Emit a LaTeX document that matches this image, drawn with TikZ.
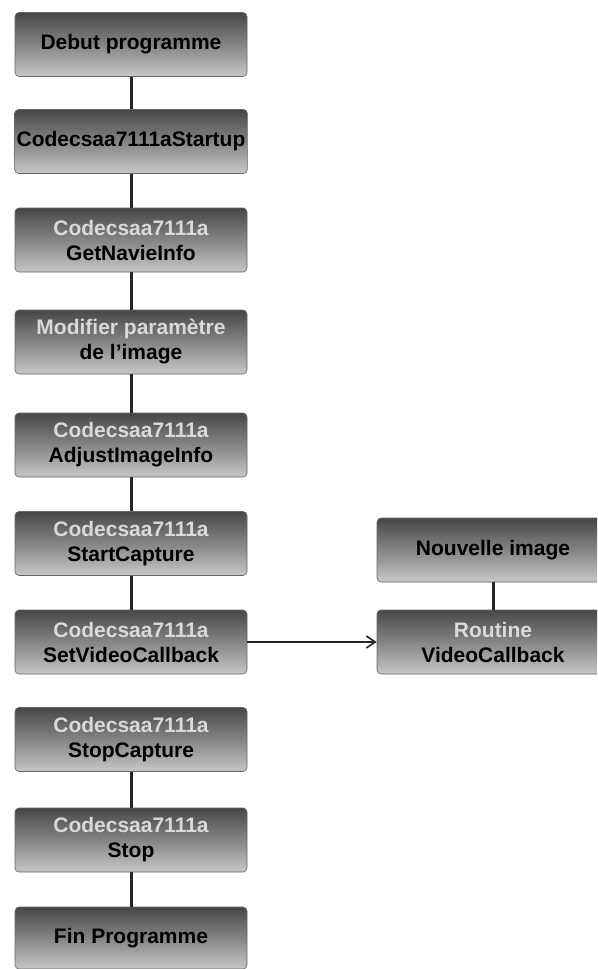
\documentclass[tikz,border=0pt]{standalone}
\usepackage{fontspec}
\setmainfont{Liberation Sans}
\usetikzlibrary{arrows.meta}
\tikzset{
  boxst/.style={rounded corners=4pt, minimum width=232pt, minimum height=64pt,
    top color=black!72, bottom color=black!22, middle color=black!48,
    draw=black!60, line width=0.6pt, align=center, inner sep=2pt,
    font=\fontsize{21}{25}\selectfont\bfseries, text=black},
  link/.style={line width=3pt, black!85},
  arr/.style={line width=2pt, black!85, -{Straight Barb[length=9pt,width=12pt,line width=1.6pt]}},
}
\newcommand{\faint}[1]{\textcolor{white!85!black}{#1}}
\begin{document}
\begin{tikzpicture}[x=1pt,y=-1pt]
\useasboundingbox (0,0) rectangle (597,969);
\clip (0,0) rectangle (597,969);
\fill[white] (0,0) rectangle (597,969);
\node[boxst] (b1) at (131,44.5) {Debut programme};
\node[boxst] (b2) at (131,141.5) {Codecsaa7111aStartup};
\node[boxst] (b3) at (131,240) {\faint{Codecsaa7111a}\\GetNavieInfo};
\node[boxst] (b4) at (131,342) {\faint{Modifier paramètre}\\de l'image};
\node[boxst] (b5) at (131,445) {\faint{Codecsaa7111a}\\AdjustImageInfo};
\node[boxst] (b6) at (131,543.5) {\faint{Codecsaa7111a}\\StartCapture};
\node[boxst] (b7) at (131,642) {\faint{Codecsaa7111a}\\SetVideoCallback};
\node[boxst] (b8) at (131,739.5) {\faint{Codecsaa7111a}\\StopCapture};
\node[boxst] (b9) at (131,840) {\faint{Codecsaa7111a}\\Stop};
\node[boxst, minimum height=62pt] (b10) at (131,938) {Fin Programme};
\node[boxst] (n1) at (493,550) {Nouvelle image};
\node[boxst] (rt) at (493,642) {\faint{Routine}\\VideoCallback};
\draw[link] (b1) -- (b2);
\draw[link] (b2) -- (b3);
\draw[link] (b3) -- (b4);
\draw[link] (b4) -- (b5);
\draw[link] (b5) -- (b6);
\draw[link] (b6) -- (b7);
\draw[link] (b8) -- (b9);
\draw[link] (b9) -- (b10);
\draw[link] (n1) -- (rt);
\draw[arr] (b7) -- (rt);
\end{tikzpicture}
\end{document}
